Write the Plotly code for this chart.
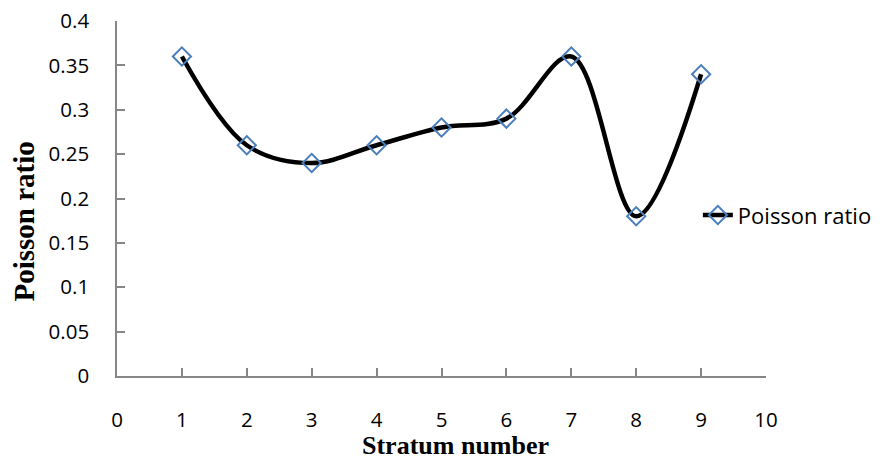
import plotly.graph_objects as go

stratum = [1, 2, 3, 4, 5, 6, 7, 8, 9]
poisson = [0.36, 0.26, 0.24, 0.26, 0.28, 0.29, 0.36, 0.18, 0.34]
series_name = "Poisson ratio"
x_title = "Stratum number"
y_title = "Poisson ratio"

y_tickvals = [0, 0.05, 0.1, 0.15, 0.2, 0.25, 0.3, 0.35, 0.4]
y_ticktext = ["0", "0.05", "0.1", "0.15", "0.2", "0.25", "0.3", "0.35", "0.4"]
x_tickvals = [0, 1, 2, 3, 4, 5, 6, 7, 8, 9, 10]
x_ticktext = [str(v) for v in x_tickvals]

tick_font = dict(family="Open Sans", size=20.5, color="black")

fig = go.Figure()
fig.add_trace(go.Scatter(
    x=stratum, y=poisson, name=series_name,
    mode="lines+markers",
    line=dict(color="black", width=4.5, shape="spline", smoothing=1),
    marker=dict(symbol="diamond-open", size=14, color="#4A7EBB",
                line=dict(width=2, color="#4A7EBB")),
))

fig.update_layout(
    width=881, height=459,
    margin=dict(l=117, r=115, t=21, b=83, autoexpand=False),
    paper_bgcolor="white", plot_bgcolor="white",
    showlegend=True,
    legend=dict(x=0.895, y=0.453, xanchor="left", yanchor="middle",
                font=dict(family="Open Sans", size=22, color="black"),
                bgcolor="rgba(0,0,0,0)"),
    xaxis=dict(range=[0, 10], tickvals=x_tickvals, ticktext=x_ticktext,
               showgrid=False, zeroline=False, automargin=False,
               showline=True, linecolor="#868686", linewidth=1.5,
               ticks="inside", ticklen=8, tickcolor="#868686", tickwidth=1.5,
               tickfont=tick_font, ticklabelstandoff=25),
    yaxis=dict(range=[0, 0.4], tickvals=y_tickvals, ticktext=y_ticktext,
               showgrid=False, zeroline=False, automargin=False,
               showline=True, linecolor="#868686", linewidth=1.5,
               ticks="inside", ticklen=8, tickcolor="#868686", tickwidth=1.5,
               tickfont=tick_font, ticklabelstandoff=22),
    annotations=[
        dict(text="<b>" + x_title + "</b>", xref="paper", yref="paper",
             x=(455 - 117) / 649, y=-(445 - 376) / 355,
             xanchor="center", yanchor="middle", showarrow=False,
             font=dict(family="Liberation Serif", size=26, color="black")),
        dict(text="<b>" + y_title + "</b>", xref="paper", yref="paper",
             x=-(117 - 23) / 649, y=(376 - 221.5) / 355, textangle=-90,
             xanchor="center", yanchor="middle", showarrow=False,
             font=dict(family="Liberation Serif", size=29, color="black")),
    ],
)

fig.write_html("out.html")
